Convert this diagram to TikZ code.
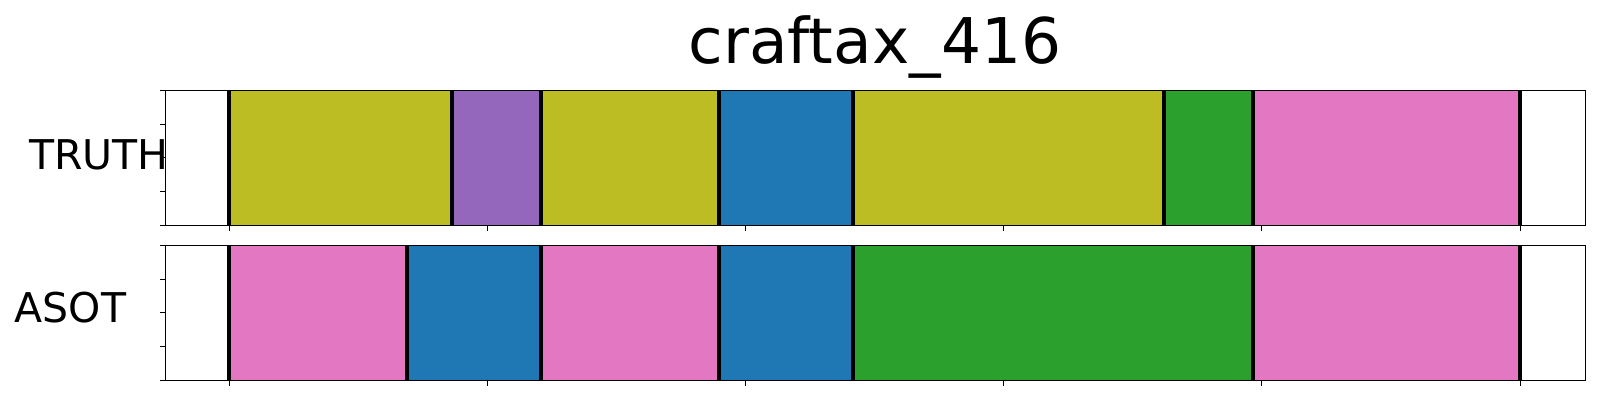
\documentclass[tikz,border=0pt]{standalone}
\usepackage{fontspec}
\setmainfont{DejaVu Sans}
\definecolor{tolive}{HTML}{BCBD22}
\definecolor{tpurple}{HTML}{9467BD}
\definecolor{tblue}{HTML}{1F77B4}
\definecolor{tgreen}{HTML}{2CA02C}
\definecolor{tpink}{HTML}{E377C2}
\tikzset{
  seg/.style={line width=0.6pt},
  bound/.style={line width=3.9pt, black},
  frame/.style={line width=1.1pt, black},
  tickmark/.style={line width=1pt, black},
  lbl/.style={inner sep=0pt, font=\fontsize{41}{41}\selectfont, anchor=base west},
  ttl/.style={inner sep=0pt, font=\fontsize{63}{63}\selectfont, anchor=base}
}
\begin{document}
\begin{tikzpicture}[x=1pt,y=-1pt]
\useasboundingbox (0,0) rectangle (1600,400);
\fill[white] (0,0) rectangle (1600,400);
% top axis segments
\foreach \a/\b/\c in {229/452/tolive, 452/540.7/tpurple, 540.7/719/tolive, 719/852.7/tblue, 852.7/1164/tolive, 1164/1253/tgreen, 1253/1520/tpink}
  \filldraw[seg, fill=\c, draw=\c!90!black] (\a,90.3) rectangle (\b,225.3);
\foreach \a in {229,452,540.7,719,852.7,1164,1253,1520}
  \draw[bound] (\a,90.3) -- (\a,225.3);
% bottom axis segments
\foreach \a/\b/\c in {229/406.7/tpink, 406.7/540.7/tblue, 540.7/719/tpink, 719/852.7/tblue, 852.7/1253/tgreen, 1253/1520/tpink}
  \filldraw[seg, fill=\c, draw=\c!90!black] (\a,245.3) rectangle (\b,380.3);
\foreach \a in {229,406.7,540.7,719,852.7,1253,1520}
  \draw[bound] (\a,245.3) -- (\a,380.3);
% frames
\draw[frame] (165.7,90.3) rectangle (1585.7,225.3);
\draw[frame] (165.7,245.3) rectangle (1585.7,380.3);
% x ticks
\foreach \x in {229,487.2,745.4,1003.6,1261.8,1520}{
  \draw[tickmark] (\x,225.3) -- (\x,230.8);
  \draw[tickmark] (\x,380.3) -- (\x,385.8);
}
% y ticks
\foreach \y in {0,1,2,3,4}{
  \draw[tickmark] (165.7,90.3+33.75*\y) -- (160.2,90.3+33.75*\y);
  \draw[tickmark] (165.7,245.3+33.75*\y) -- (160.2,245.3+33.75*\y);
}
% labels
\node[ttl] (title) at (875,63.3) {craftax\_416};
\node[lbl] (truth) at (29,169.3) {TRUTH};
\node[lbl] (asot) at (14.7,322.7) {ASOT};
\end{tikzpicture}
\end{document}
